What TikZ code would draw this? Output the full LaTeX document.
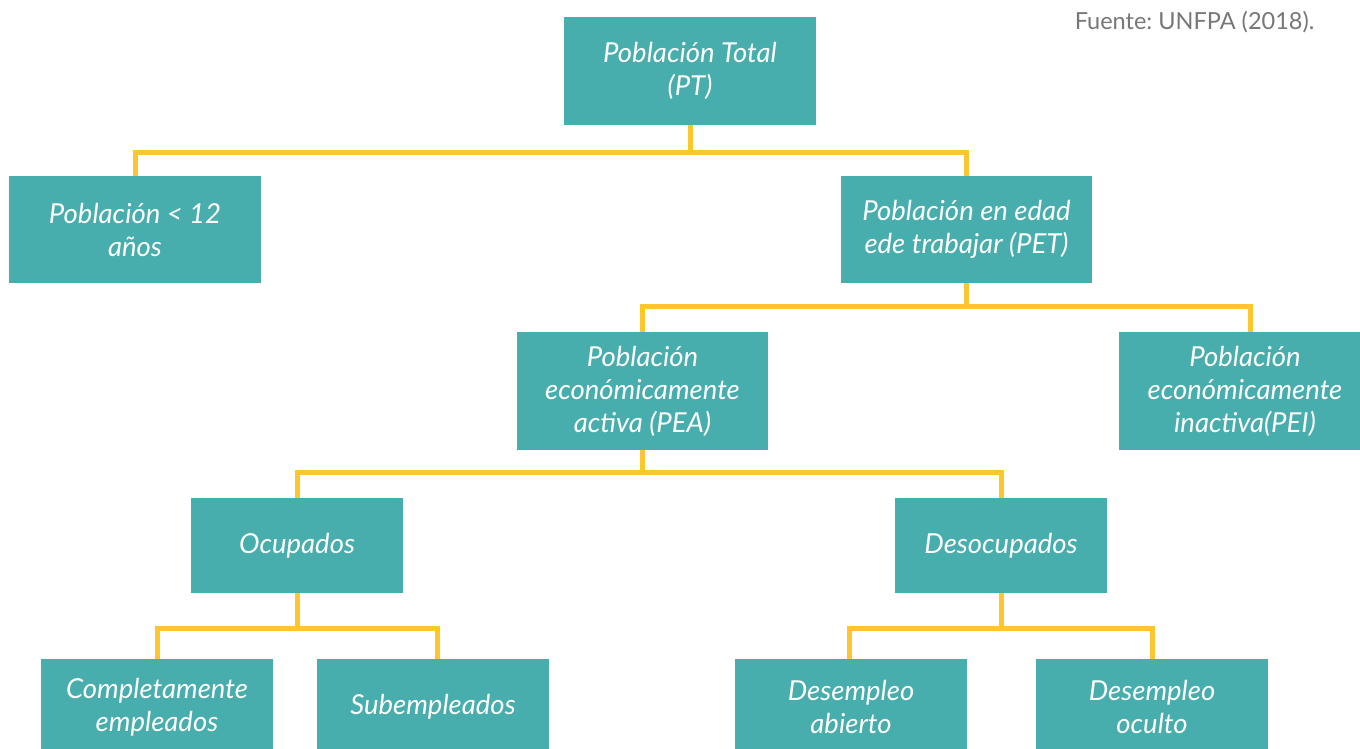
\documentclass[tikz,border=0pt]{standalone}
\usepackage{fontspec}
\setmainfont{Lato}
\frenchspacing
\definecolor{boxteal}{HTML}{47ADAD}
\definecolor{lineyel}{HTML}{FCC72E}
\definecolor{srcgray}{HTML}{777777}
\begin{document}
\begin{tikzpicture}[x=1pt,y=-1pt,
  box/.style={fill=boxteal, text=white, inner sep=0pt, align=center,
    font=\fontsize{27.5}{33}\selectfont\itshape},
  conn/.style={draw=lineyel, line width=5pt}]
\useasboundingbox (0,0) rectangle (1360,749);
\begin{scope}
\clip (0,0) rectangle (1360,749);
\node[box, minimum width=252pt, minimum height=108pt] (pt) at (690,71) {Población Total\\(PT)};
\node[box, minimum width=252pt, minimum height=107pt] (men) at (135,229.5) {Población < 12\\años};
\node[box, minimum width=251pt, minimum height=107pt] (pet) at (966.5,229.5) {Población en edad\\ede trabajar (PET)};
\node[box, minimum width=251pt, minimum height=118pt] (pea) at (642.5,391) {Población\\económicamente\\activa (PEA)};
\node[box, minimum width=252pt, minimum height=118pt] (pei) at (1245,391) {Población\\económicamente\\inactiva(PEI)};
\node[box, minimum width=212pt, minimum height=95pt] (ocu) at (297,545.5) {Ocupados};
\node[box, minimum width=212pt, minimum height=95pt] (des) at (1001,545.5) {Desocupados};
\node[box, minimum width=232pt, minimum height=96pt] (com) at (157,707) {Completamente\\empleados};
\node[box, minimum width=232pt, minimum height=96pt] (sub) at (433,707) {Subempleados};
\node[box, minimum width=232pt, minimum height=96pt] (abi) at (851,707) {Desempleo\\abierto};
\node[box, minimum width=232pt, minimum height=96pt] (ocl) at (1152,707) {Desempleo\\oculto};
\end{scope}
\node[text=srcgray, font=\fontsize{23.5}{28}\selectfont, inner sep=0pt] (src) at (1194.5,22) {Fuente: UNFPA (2018).};
\begin{scope}[conn]
\draw (pt.south) -- ++(0,27) -| (men.north);
\draw (pt.south) -- ++(0,27) -| (pet.north);
\draw (pet.south) -- ++(0,23) -| (pea.north);
\draw (pet.south) -- ++(0,23) -| ([xshift=5pt]pei.north);
\draw (pea.south) -- ++(0,22) -| (ocu.north);
\draw (pea.south) -- ++(0,22) -| (des.north);
\draw (ocu.south) -- ++(0,35) -| (com.north);
\draw (ocu.south) -- ++(0,35) -| ([xshift=4pt]sub.north);
\draw (des.south) -- ++(0,35) -| ([xshift=-2pt]abi.north);
\draw (des.south) -- ++(0,35) -| (ocl.north);
\end{scope}
\end{tikzpicture}
\end{document}
